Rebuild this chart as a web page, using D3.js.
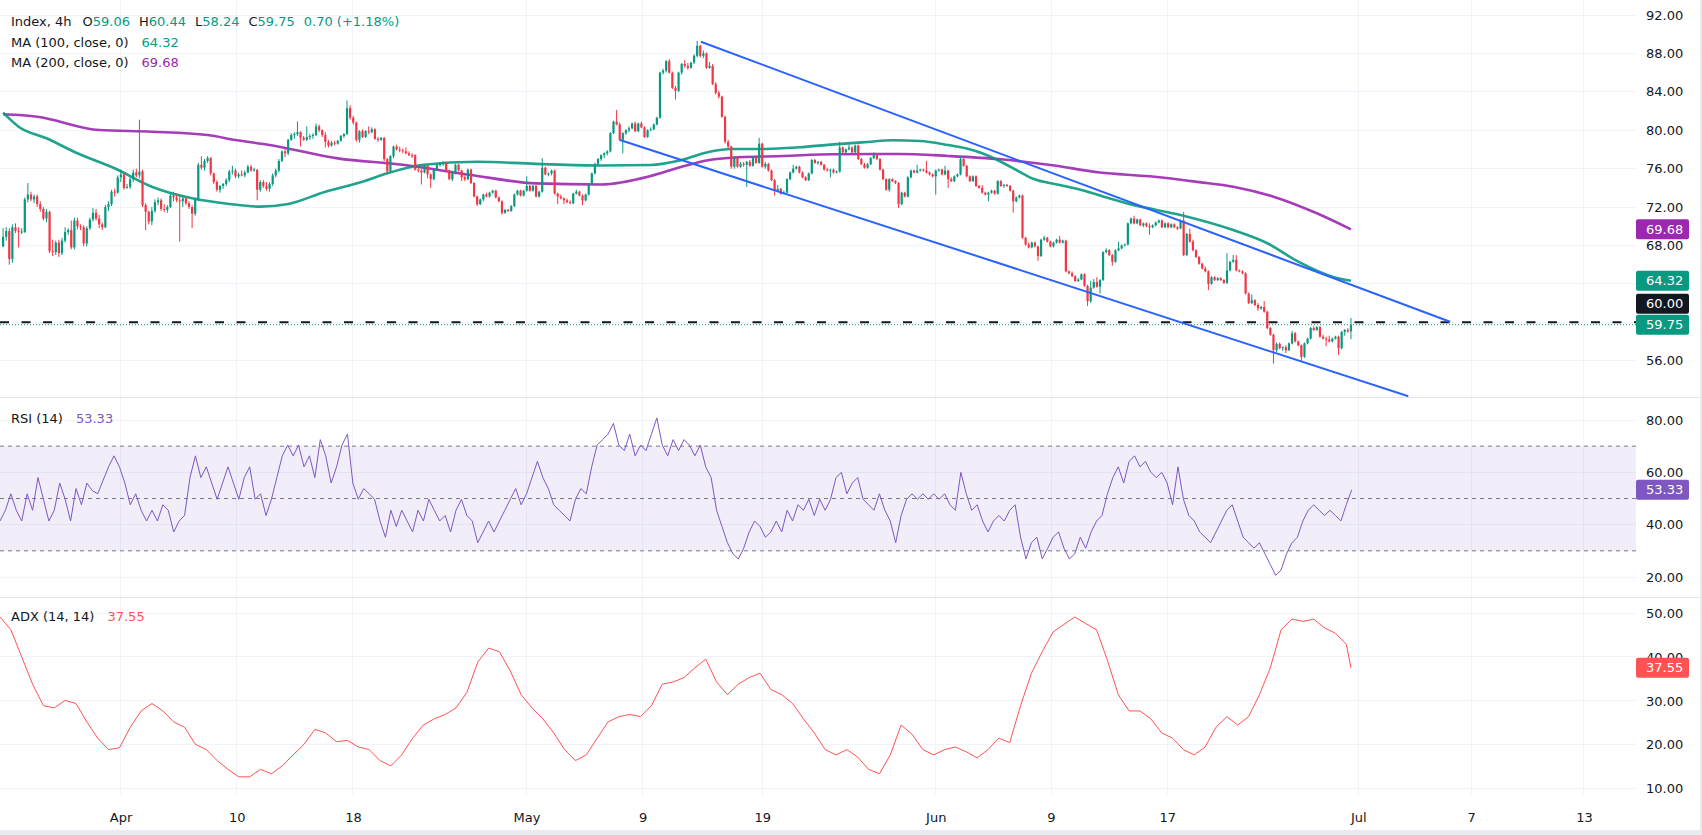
<!DOCTYPE html>
<html><head><meta charset="utf-8">
<script src="https://cdn.jsdelivr.net/npm/d3@7"></script>
<style>
html,body{margin:0;padding:0;background:#e9ebf0;}
svg{display:block;background:#fff;font-family:"DejaVu Sans",sans-serif;}
</style></head><body>
<svg id="c" width="1700" height="830"></svg>
<script>
// ---------------- DATA ----------------
const open=[67.9,68.9,69.5,66.6,69.9,69.5,69.4,69.4,72.8,73.3,
72.8,73.1,72.3,71.8,70.8,71.5,67.4,67.3,68.3,67.2,
68.5,69.4,69.6,67.8,70.6,70.0,69.9,68.2,69.8,70.7,
71.4,70.8,70.2,69.9,72.0,72.3,73.6,73.5,75.1,75.4,
74.0,74.1,74.9,75.6,75.3,75.7,72.2,71.5,70.5,71.6,
72.5,72.7,71.8,71.7,72.0,73.2,73.0,72.7,72.6,72.9,
72.4,72.0,71.3,72.8,76.4,76.1,76.8,77.1,75.5,74.6,
73.8,74.2,74.4,74.8,75.7,75.8,75.2,75.4,75.3,75.6,
76.2,75.8,75.9,73.8,74.6,74.2,73.9,74.4,75.3,75.8,
76.8,77.8,77.6,79.0,79.5,79.6,79.8,79.2,79.0,79.3,
79.4,79.5,80.4,80.0,79.5,78.8,78.4,78.7,78.6,78.9,
79.4,79.6,82.3,81.3,80.8,79.0,79.9,79.3,79.9,79.8,
80.1,79.1,79.0,79.2,77.0,75.7,77.3,78.3,78.0,77.9,
77.8,77.6,77.4,77.4,75.9,75.8,75.6,76.3,75.4,74.9,
75.9,76.4,76.5,76.6,75.8,74.9,75.6,76.4,75.8,75.1,
74.9,75.9,74.5,73.1,72.3,72.8,73.3,73.1,73.5,73.7,
73.0,72.6,71.4,71.7,71.6,72.1,73.3,73.7,73.2,73.7,
74.2,73.7,74.2,73.1,73.6,76.1,75.4,75.5,75.8,73.4,
73.1,72.9,72.7,72.5,72.4,73.4,73.6,73.2,72.7,73.3,
74.4,75.5,76.5,77.0,77.4,77.6,77.8,79.7,80.9,80.6,
79.0,79.7,80.0,80.2,80.7,79.9,80.7,80.3,79.3,80.0,
80.1,80.6,81.3,86.0,86.2,87.2,86.0,84.4,84.1,86.0,
86.9,86.7,86.5,87.05,87.75,88.8,87.75,88.0,86.5,86.7,
84.8,83.9,83.5,81.4,78.8,78.3,76.2,77.2,76.2,76.5,
76.4,76.7,76.3,77.2,76.6,78.6,76.2,76.5,75.8,74.8,
73.7,73.9,73.4,73.5,74.9,75.6,76.0,76.2,75.6,75.1,
74.8,75.5,76.9,76.6,76.7,76.4,75.9,75.8,75.9,75.6,
75.7,78.2,77.7,78.0,78.2,77.7,78.4,77.0,76.45,76.1,
76.45,77.1,77.5,77.0,75.9,74.9,73.8,74.9,74.7,74.5,
72.3,73.5,73.1,75.1,75.8,75.6,75.8,75.9,75.8,75.6,
75.4,75.2,75.8,75.9,75.4,75.8,74.9,74.7,75.2,75.4,
77.0,76.3,75.2,74.7,75.2,74.2,74.0,73.5,73.3,73.5,
73.7,73.4,74.7,74.2,74.3,74.2,73.7,72.6,73.0,73.2,
68.8,68.1,67.8,68.3,67.9,66.9,68.6,68.8,68.4,67.9,
68.3,68.6,68.3,68.5,65.3,65.1,64.8,64.3,64.45,65.0,
63.8,62.2,63.6,64.2,63.7,64.4,67.3,67.5,67.0,66.3,
67.5,67.7,68.0,68.1,70.3,70.8,70.3,70.7,70.1,70.3,
70.0,69.9,70.1,70.4,70.6,69.9,70.3,69.9,70.2,69.9,
69.75,70.6,67.0,69.2,68.4,67.5,66.8,66.1,65.6,65.3,
64.0,64.7,64.4,64.6,64.4,64.1,65.4,66.3,66.5,65.4,
65.3,65.1,63.0,62.0,62.3,61.8,61.45,61.6,61.1,59.4,
58.7,57.1,57.75,57.3,57.4,57.1,57.8,58.85,58.0,57.6,
56.4,57.8,58.3,59.4,59.2,59.5,58.5,58.3,58.2,58.0,
58.3,58.5,57.3,59.0,59.2,59.06];
const high=[69.8,69.9,69.8,70.2,70.3,69.9,69.8,73.0,74.5,73.6,
73.3,73.3,72.6,72.0,71.8,71.6,68.6,68.5,68.6,68.8,
69.9,69.8,70.6,70.9,70.9,70.2,70.1,70.0,70.9,71.9,
71.8,71.2,70.4,72.2,72.6,73.8,73.9,75.3,75.9,75.6,
74.4,75.1,75.9,76.0,81.1,75.9,72.4,71.6,72.0,72.8,
73.0,72.9,72.3,72.2,73.5,73.6,73.3,73.2,73.2,73.1,
72.6,72.2,73.0,76.6,77.3,77.0,77.3,77.2,75.6,74.8,
74.3,74.5,75.0,75.9,76.3,76.0,75.6,75.8,75.8,76.4,
76.4,76.1,75.9,74.8,74.8,74.6,74.6,75.5,76.0,77.0,
77.9,78.1,79.1,79.7,79.8,80.9,79.9,79.4,80.4,79.6,
79.7,80.7,80.6,80.1,79.8,79.0,78.9,78.9,79.0,79.5,
79.7,83.1,82.6,81.5,80.9,80.0,80.1,80.0,80.4,80.3,
80.2,79.3,79.3,79.3,77.1,77.4,78.4,78.5,78.3,78.1,
78.2,77.8,77.6,77.5,76.1,76.0,76.4,76.4,75.5,76.0,
76.5,76.7,76.8,76.7,75.9,75.8,76.5,76.5,75.9,75.3,
76.0,76.0,74.6,73.2,72.9,73.4,73.5,73.6,73.8,73.8,
73.1,72.7,71.8,71.8,72.2,73.4,73.8,73.8,73.8,75.2,
74.3,74.3,74.3,73.7,77.1,76.2,75.6,75.9,75.9,73.5,
73.3,73.0,72.9,72.7,73.5,73.8,73.7,73.3,73.4,74.5,
75.6,76.6,77.1,77.5,77.7,77.9,79.8,81.0,82.1,80.8,
79.8,80.1,80.4,80.8,80.9,80.8,80.9,80.4,80.1,80.3,
80.7,81.4,86.1,86.4,87.3,87.4,86.1,84.6,86.1,87.0,
87.3,87.0,87.1,87.9,89.3,88.9,88.3,88.1,87.1,86.9,
85.0,84.1,83.6,81.5,79.0,78.4,77.3,77.3,76.7,76.7,
76.8,76.9,77.3,77.3,79.2,78.7,76.7,76.6,75.9,74.9,
74.3,74.0,73.7,75.0,75.7,76.4,76.3,76.3,75.7,75.2,
75.6,77.0,77.0,76.8,76.8,76.5,76.1,76.0,76.0,75.8,
78.8,78.3,78.1,78.5,78.3,78.5,78.5,77.1,76.6,76.6,
77.2,77.7,77.6,77.1,76.0,75.0,75.0,75.0,74.8,74.6,
73.6,73.6,75.2,75.9,75.9,76.4,76.0,76.0,76.8,75.7,
75.5,75.9,76.0,76.0,76.3,75.9,75.1,75.3,75.5,77.3,
77.1,76.4,75.3,75.3,75.3,74.3,74.3,73.6,73.6,73.8,
73.8,74.8,74.8,74.4,74.4,74.3,73.8,73.1,73.3,73.3,
68.9,68.3,68.4,68.4,68.0,68.7,69.0,68.9,68.5,68.4,
68.7,69.0,68.6,68.6,65.4,65.3,64.9,64.6,65.1,65.1,
63.9,64.3,64.5,64.7,64.5,67.4,67.7,67.6,67.1,67.6,
68.4,68.1,68.2,70.4,70.9,71.1,70.8,70.8,70.4,70.4,
70.3,70.2,70.5,70.7,70.7,70.4,70.4,70.3,70.3,70.0,
70.7,71.5,69.3,69.75,68.6,67.6,66.9,66.2,65.8,65.4,
64.8,64.8,64.7,64.7,64.5,67.2,66.4,67.0,67.0,65.5,
65.4,65.2,63.1,62.9,62.4,62.0,61.7,62.2,61.2,59.5,
58.8,57.9,57.9,57.5,57.6,57.9,59.1,59.0,58.1,57.7,
57.9,58.4,59.5,59.6,59.6,59.6,58.7,58.5,58.6,58.4,
58.6,58.6,59.1,59.3,59.4,60.44];
const low=[67.8,68.5,66.0,66.2,69.3,67.8,69.2,69.3,72.5,72.6,
72.4,72.0,71.5,70.6,70.4,67.2,66.9,67.0,66.8,67.0,
68.3,69.1,67.6,67.6,69.7,69.6,67.9,67.9,69.6,70.5,
70.6,69.8,69.6,69.8,71.6,72.1,73.1,73.4,74.6,73.8,
73.9,73.9,74.6,75.1,75.0,72.0,69.6,70.2,70.1,71.4,
72.2,71.6,71.5,71.4,71.9,72.6,72.5,68.4,72.0,72.2,
71.8,69.8,71.1,72.6,75.9,75.8,76.6,75.3,74.4,73.6,
73.5,73.9,74.2,74.6,75.4,75.0,75.0,75.2,75.1,75.5,
75.7,75.7,72.7,73.6,74.0,73.7,73.6,74.2,75.1,75.6,
76.7,77.2,77.4,78.9,79.1,79.4,78.3,78.9,78.9,79.0,
79.1,79.4,79.8,79.3,78.2,78.2,78.3,78.4,78.5,78.8,
79.2,79.5,81.1,80.6,78.8,78.7,79.2,79.2,79.6,79.7,
79.0,78.8,78.9,76.8,75.4,75.5,77.1,77.9,77.7,77.6,
77.5,77.3,77.1,75.8,75.6,74.35,75.5,75.0,74.0,74.8,
75.8,76.2,76.3,75.7,74.8,74.7,75.4,75.7,74.7,74.7,
74.8,74.4,73.0,72.1,72.2,72.6,73.0,73.0,73.4,72.9,
72.5,71.2,71.3,71.5,71.5,72.0,73.2,73.1,73.1,73.6,
73.6,73.6,73.0,73.0,73.5,75.3,75.2,75.3,73.3,72.3,
72.8,72.3,72.4,72.3,72.3,73.3,73.1,72.2,72.6,73.2,
74.3,75.4,76.3,76.8,77.1,77.4,77.7,79.6,80.5,78.9,
77.6,79.5,79.8,80.1,79.8,79.8,80.2,79.2,79.2,79.9,
80.0,80.5,81.2,85.8,86.0,85.9,84.3,83.2,84.0,85.8,
86.5,86.3,86.4,86.9,87.6,87.6,87.5,86.4,86.4,84.7,
83.7,83.3,81.3,78.6,78.1,76.0,76.0,76.1,76.1,76.2,
74.1,76.2,76.2,76.5,76.5,76.1,76.0,75.7,74.7,73.2,
73.6,73.3,73.3,73.4,74.8,75.5,75.9,75.5,75.0,74.7,
74.7,75.4,76.5,76.4,76.3,75.8,75.7,75.1,75.5,75.5,
75.6,77.6,77.6,77.9,77.6,77.6,76.9,76.4,76.0,76.0,
76.4,77.0,76.9,75.8,74.8,73.7,73.6,74.6,74.4,71.9,
72.2,73.0,73.0,75.0,75.5,75.5,75.7,75.7,75.5,75.3,
75.1,73.3,75.7,75.3,75.3,74.0,74.6,74.6,75.1,75.3,
76.2,75.1,74.6,74.6,74.1,73.9,73.4,73.2,72.6,73.4,
73.3,73.3,74.1,74.0,74.1,73.6,71.4,72.5,72.9,68.7,
68.0,67.7,67.7,67.8,66.4,66.8,68.5,68.3,67.8,67.8,
68.2,68.2,68.2,65.2,65.0,64.7,64.2,64.2,64.4,63.7,
61.7,62.0,63.5,63.6,63.0,64.3,67.2,66.9,65.9,66.2,
67.4,67.6,67.9,68.0,70.2,70.2,70.2,70.0,69.9,69.9,
69.1,69.8,70.0,70.3,69.8,69.8,69.8,69.8,69.8,69.6,
69.7,66.9,66.9,68.3,67.4,66.7,66.0,65.5,65.2,63.35,
63.9,64.3,64.3,64.3,64.0,64.0,65.3,66.2,65.3,65.2,
65.0,62.9,61.9,61.9,61.7,61.2,61.3,61.0,59.3,58.6,
55.7,56.9,57.2,57.0,56.8,57.0,57.7,57.9,57.5,55.9,
56.3,57.7,58.2,59.1,59.1,58.4,58.2,57.5,57.9,57.9,
58.2,56.6,57.2,58.6,58.9,58.24];
const close=[68.9,69.5,66.6,69.9,69.5,69.4,69.45,72.8,73.3,72.8,
73.1,72.3,71.8,70.8,71.5,67.4,67.3,68.3,67.2,68.5,
69.4,69.6,67.8,70.6,70.0,69.9,68.2,69.8,70.7,71.4,
70.8,70.2,69.9,72.0,72.3,73.6,73.5,75.1,75.4,74.0,
74.1,74.9,75.6,75.3,75.7,72.2,71.5,70.5,71.6,72.5,
72.7,71.8,71.7,72.0,73.2,73.0,72.7,72.6,72.9,72.4,
72.0,71.3,72.8,76.4,76.1,76.8,77.1,75.5,74.6,73.8,
74.2,74.4,74.8,75.7,75.8,75.2,75.4,75.3,75.6,76.2,
75.8,75.9,73.8,74.6,74.2,73.9,74.4,75.3,75.8,76.8,
77.8,77.6,79.0,79.5,79.6,79.8,79.2,79.0,79.3,79.4,
79.5,80.4,80.0,79.5,78.8,78.4,78.7,78.6,78.9,79.4,
79.6,82.3,81.3,80.8,79.0,79.9,79.3,79.9,79.8,80.1,
79.1,79.0,79.2,77.0,75.7,77.3,78.3,78.0,77.9,77.8,
77.6,77.4,77.3,75.9,75.8,75.6,76.3,75.4,74.9,75.9,
76.4,76.5,76.6,75.8,74.9,75.6,76.4,75.8,75.1,74.9,
75.9,74.5,73.1,72.3,72.8,73.3,73.1,73.5,73.7,73.0,
72.6,71.4,71.7,71.6,72.1,73.3,73.7,73.2,73.7,74.2,
73.7,74.2,73.1,73.6,76.1,75.4,75.5,75.8,73.4,73.1,
72.9,72.7,72.5,72.4,73.4,73.6,73.2,72.7,73.3,74.4,
75.5,76.5,77.0,77.4,77.6,77.8,79.7,80.9,80.6,79.0,
79.7,80.0,80.2,80.7,79.9,80.7,80.3,79.3,80.0,80.1,
80.6,81.3,86.0,86.2,87.2,86.0,84.4,84.1,86.0,86.9,
86.7,86.5,87.05,87.75,88.8,87.75,88.0,86.5,86.7,84.8,
83.9,83.5,81.4,78.8,78.3,76.2,77.2,76.2,76.5,76.4,
76.7,76.3,77.2,76.6,78.6,76.2,76.5,75.8,74.8,73.7,
73.9,73.4,73.5,74.9,75.6,76.0,76.2,75.6,75.1,74.8,
75.5,76.9,76.6,76.7,76.4,75.9,75.8,75.9,75.6,75.7,
78.2,77.7,78.0,78.2,77.7,78.4,77.0,76.45,76.1,76.45,
77.1,77.5,77.0,75.9,74.9,73.8,74.9,74.7,74.5,72.3,
73.5,73.1,75.1,75.8,75.6,75.8,75.9,75.8,75.6,75.4,
75.2,75.8,75.9,75.4,75.8,74.9,74.7,75.2,75.4,77.0,
76.3,75.2,74.7,75.2,74.2,74.0,73.5,73.3,73.5,73.7,
73.4,74.7,74.2,74.3,74.2,73.7,72.6,73.0,73.2,68.8,
68.1,67.8,68.3,67.9,66.9,68.6,68.8,68.4,67.9,68.3,
68.6,68.3,68.5,65.3,65.1,64.8,64.3,64.45,65.0,63.8,
62.2,63.6,64.2,63.7,64.4,67.3,67.5,67.0,66.3,67.5,
67.7,68.0,68.1,70.3,70.8,70.3,70.7,70.1,70.3,70.0,
69.9,70.1,70.4,70.6,69.9,70.3,69.9,70.2,69.9,69.75,
70.6,67.0,69.2,68.4,67.5,66.8,66.1,65.6,65.3,64.0,
64.7,64.4,64.6,64.4,64.1,65.4,66.3,66.5,65.4,65.3,
65.1,63.0,62.0,62.3,61.8,61.45,61.6,61.1,59.4,58.7,
57.1,57.75,57.3,57.4,57.1,57.8,58.85,58.0,57.6,56.4,
57.8,58.3,59.4,59.2,59.5,58.5,58.3,58.2,58.0,58.3,
58.5,57.3,59.0,59.2,59.054,59.75];

// moving averages (bar index, value)
const ma100Bar=[0,5,14,24,36,48,61,73,83,92,104,116,124,135,153,172,193,209,219,228,235,246,257,268,279,287,296,305,311,316,322,327,332,341,348,354,365,380,397,408,418,429,435];
const ma100Val=[81.83,80.37,79.16,77.6,76.04,74.12,72.91,72.32,72.04,72.32,73.6,74.64,75.51,76.38,76.72,76.5,76.33,76.38,76.9,77.76,78.05,78.05,78.22,78.53,78.78,78.95,78.88,78.46,78.1,77.6,76.72,75.86,75.0,74.3,73.78,73.2,72.2,71.17,69.6,68.23,66.31,64.75,64.32];
const ma200Bar=[0,11,31,48,66,75,86,108,129,151,172,193,209,219,228,235,252,268,289,305,322,338,354,370,386,397,410,424,435];
const ma200Val=[81.66,81.41,80.02,79.85,79.5,78.98,78.46,77.07,76.4,75.34,74.47,74.35,75.23,76.2,76.9,77.14,77.32,77.5,77.53,77.32,76.97,76.38,75.6,75.2,74.6,74.12,73.08,71.35,69.68];

// channel lines (bar index, price)
const upperBar=[225.2,467.0], upperVal=[89.22,60.06];
const lowerBar=[199.1,453.5], lowerVal=[78.98,52.3];
const levelVal=60.00;

// RSI(14) sampled every rsiStep bars from rsiStart
const rsiStart=-1, rsiStep=1.752;
const rsiVal=[41.4,45.5,51.8,45.5,41.4,51.8,45.5,58.0,49.7,41.4,
45.5,55.9,49.7,41.4,53.8,47.6,55.9,53.0,51.8,57.0,
62.1,66.3,62.1,55.9,47.6,51.8,45.5,41.4,45.5,41.4,
47.6,45.5,37.2,41.4,43.5,58.0,66.3,58.0,62.1,55.9,
49.7,55.9,62.1,55.9,49.7,58.0,62.1,49.7,51.8,43.5,
49.7,58.0,66.3,70.4,66.3,70.4,62.1,66.3,58.0,72.5,
66.3,55.9,62.1,70.4,74.6,55.9,49.7,53.8,51.8,49.7,
41.4,35.2,45.5,39.3,45.5,41.4,37.2,45.5,41.4,49.7,
45.5,41.4,43.5,37.2,45.5,49.7,43.5,41.4,33.1,37.2,
41.4,37.2,41.4,45.5,49.7,53.8,47.6,51.8,58.0,64.2,
58.0,53.8,47.6,45.5,43.5,41.4,49.7,53.8,51.8,62.1,
70.4,72.5,74.6,78.7,70.4,68.3,74.6,66.3,70.4,68.3,
74.6,80.8,70.4,66.3,72.5,68.3,72.5,70.4,66.3,70.4,
62.1,58.0,45.5,39.3,33.1,28.9,26.9,31.0,37.2,41.4,
39.3,35.2,37.2,41.4,37.2,45.5,41.4,47.6,45.5,49.7,
43.5,49.7,45.5,49.7,58.0,60.0,51.8,55.9,58.0,49.7,
47.6,45.5,51.8,45.5,41.4,33.1,43.5,49.7,51.8,49.7,
51.8,49.7,51.8,49.7,51.8,47.6,45.5,60.0,51.8,45.5,
47.6,41.4,37.2,41.4,43.5,41.4,45.5,47.6,35.2,26.9,
33.1,35.2,26.9,31.0,35.2,37.2,31.0,26.9,28.9,35.2,
31.0,37.2,41.4,43.5,51.8,58.0,62.1,55.9,64.2,66.3,
62.1,64.2,60.0,58.0,60.0,55.9,47.6,62.1,49.7,43.5,
41.4,37.2,35.2,33.1,37.2,41.4,45.5,47.6,41.4,35.2,
33.1,31.0,33.1,28.9,24.8,20.6,22.7,28.9,33.1,35.2,
41.4,45.5,47.6,45.5,43.5,45.5,43.5,41.4,47.6,53.33];
const rsiBands=[70,50,30];

// ADX(14,14) sampled every adxStep bars, last point on the last bar
const adxStart=-1, adxStep=3.504;
const adxVal=[49.1,46.2,40.0,33.8,28.9,28.4,30.1,29.4,25.2,21.5,
18.9,19.3,24.0,27.7,29.4,27.7,25.2,24.0,20.1,18.9,
16.4,14.4,12.7,12.7,14.4,13.4,15.2,17.7,20.1,23.5,
22.7,20.7,21.0,19.5,18.9,16.4,15.2,17.7,21.5,24.5,
25.9,26.9,28.4,31.9,38.8,42.0,41.2,36.8,31.4,28.4,
25.9,22.7,18.9,16.4,17.7,21.5,25.2,26.4,26.9,26.4,
28.9,33.8,34.3,35.3,37.5,39.5,34.3,31.4,33.8,35.3,
36.3,32.6,31.4,29.4,25.9,22.7,18.9,17.7,18.9,17.2,
14.4,13.4,17.7,24.5,22.4,18.9,17.7,18.9,19.5,18.4,
17.0,18.9,21.5,20.5,28.9,36.3,41.2,45.7,47.4,49.1,
47.6,46.2,39.2,31.4,27.7,27.7,25.9,22.7,21.5,18.9,
17.7,19.5,24.0,26.4,24.5,26.4,31.4,37.5,46.2,48.6,
48.1,48.6,46.6,45.4,42.9];
const adxLast=37.55;

// axes
const tickLabels=["Apr","10","18","May","9","19","Jun","9","17","Jul","7","13"];
const tickBars=[37.9,75.4,112.9,168.9,206.4,245.0,301.0,338.2,375.7,437.4,473.8,510.2];
const priceTicks=[56,60,64,68,72,76,80,84,88,92];
const rsiTicks=[20,40,60,80];
const adxTicks=[10,20,30,40,50];

// ---------------- DRAW ----------------
const UP="#089981", DN="#F23645", TXT="#131722", GRID="#f0f3fa", SEP="#e0e3eb";
const MA100C="#089981", MA200C="#9C27B0", RSIC="#7E57C2", ADXC="#FF5252", TLC="#2962FF";
const plotR=1636, fullW=1700;
const svg=d3.select("#c");
const x=d3.scaleLinear().domain([-1,527]).range([0,plotR]);
const yP=d3.scaleLinear().domain([56,92]).range([360.7,15]);
const yR=d3.scaleLinear().domain([20,80]).range([577,420]);
const yA=d3.scaleLinear().domain([10,50]).range([788.7,613]);
const panes={p:[0,397],r:[397,597],a:[597,795]};

const defs=svg.append("defs");
Object.entries(panes).forEach(([k,[t,b]])=>{
  defs.append("clipPath").attr("id","clip-"+k).append("rect").attr("x",0).attr("y",t).attr("width",plotR).attr("height",b-t);
});

// grid
const grid=svg.append("g").attr("stroke",GRID).attr("stroke-width",1).attr("shape-rendering","crispEdges");
tickBars.forEach(b=>grid.append("line").attr("x1",x(b)).attr("x2",x(b)).attr("y1",0).attr("y2",795));
priceTicks.forEach(v=>grid.append("line").attr("x1",0).attr("x2",plotR).attr("y1",yP(v)).attr("y2",yP(v)));
rsiTicks.forEach(v=>grid.append("line").attr("x1",0).attr("x2",plotR).attr("y1",yR(v)).attr("y2",yR(v)));
adxTicks.forEach(v=>grid.append("line").attr("x1",0).attr("x2",plotR).attr("y1",yA(v)).attr("y2",yA(v)));

// pane separators
[397,597].forEach(y=>svg.append("line").attr("x1",0).attr("x2",fullW).attr("y1",y+0.5).attr("y2",y+0.5).attr("stroke",SEP).attr("stroke-width",1));

// ---- price pane
const gp=svg.append("g").attr("clip-path","url(#clip-p)");
gp.append("line").attr("x1",0).attr("x2",plotR).attr("y1",yP(levelVal)).attr("y2",yP(levelVal))
  .attr("stroke",TXT).attr("stroke-width",2).attr("stroke-dasharray","9,12.5");
const lastC=close[close.length-1];
gp.append("line").attr("x1",0).attr("x2",plotR).attr("y1",yP(lastC)).attr("y2",yP(lastC))
  .attr("stroke",UP).attr("stroke-width",1).attr("stroke-dasharray","1,2");

const maLine=d3.line().x(d=>x(d[0])).y(d=>yP(d[1])).curve(d3.curveMonotoneX);
gp.append("path").attr("d",maLine(ma200Bar.map((b,i)=>[b,ma200Val[i]]))).attr("fill","none").attr("stroke",MA200C).attr("stroke-width",2.6).attr("stroke-opacity",0.9);
gp.append("path").attr("d",maLine(ma100Bar.map((b,i)=>[b,ma100Val[i]]))).attr("fill","none").attr("stroke",MA100C).attr("stroke-width",2.6).attr("stroke-opacity",0.9);

const cg=gp.append("g");
close.forEach((c,i)=>{
  const o=open[i], col=c>=o?UP:DN, cx=x(i);
  cg.append("line").attr("x1",cx).attr("x2",cx).attr("y1",yP(high[i])).attr("y2",yP(low[i])).attr("stroke",col).attr("stroke-width",1);
  const top=yP(Math.max(o,c)), bot=yP(Math.min(o,c));
  cg.append("rect").attr("x",cx-1.1).attr("width",2.2).attr("y",top).attr("height",Math.max(1,bot-top)).attr("fill",col);
});

const tl=d3.line().x(d=>x(d[0])).y(d=>yP(d[1]));
gp.append("path").attr("d",tl(upperBar.map((b,i)=>[b,upperVal[i]]))).attr("stroke",TLC).attr("stroke-width",2).attr("fill","none");
gp.append("path").attr("d",tl(lowerBar.map((b,i)=>[b,lowerVal[i]]))).attr("stroke",TLC).attr("stroke-width",2).attr("fill","none");

// ---- RSI pane
const gr=svg.append("g").attr("clip-path","url(#clip-r)");
gr.append("rect").attr("x",0).attr("width",plotR).attr("y",yR(70)).attr("height",yR(30)-yR(70)).attr("fill","rgba(126,87,194,0.1)");
rsiBands.forEach(v=>gr.append("line").attr("x1",0).attr("x2",plotR).attr("y1",yR(v)).attr("y2",yR(v)).attr("stroke","#787B86").attr("stroke-width",1).attr("stroke-dasharray","4,4"));
const rl=d3.line().x((d,k)=>x(rsiStart+k*rsiStep)).y(d=>yR(d));
gr.append("path").attr("d",rl(rsiVal)).attr("fill","none").attr("stroke",RSIC).attr("stroke-width",1);

// ---- ADX pane
const ga=svg.append("g").attr("clip-path","url(#clip-a)");
const adxPts=adxVal.map((v,k)=>[adxStart+k*adxStep,v]).concat([[close.length-1,adxLast]]);
ga.append("path").attr("d",d3.line().x(d=>x(d[0])).y(d=>yA(d[1]))(adxPts)).attr("fill","none").attr("stroke",ADXC).attr("stroke-width",1);

// ---- axes
function styleAxis(g){g.select(".domain").remove();g.attr("font-family","DejaVu Sans, sans-serif").attr("font-size",13).attr("color",TXT);}
const f2=d3.format(".2f");
svg.append("g").attr("transform",`translate(${plotR},0)`).call(d3.axisRight(yP).tickValues(priceTicks).tickFormat(f2).tickSize(0).tickPadding(10)).call(styleAxis);
svg.append("g").attr("transform",`translate(${plotR},0)`).call(d3.axisRight(yR).tickValues(rsiTicks).tickFormat(f2).tickSize(0).tickPadding(10)).call(styleAxis);
svg.append("g").attr("transform",`translate(${plotR},0)`).call(d3.axisRight(yA).tickValues(adxTicks).tickFormat(f2).tickSize(0).tickPadding(10)).call(styleAxis);
svg.append("g").attr("transform","translate(0,795)").call(d3.axisBottom(x).tickValues(tickBars).tickFormat((d,i)=>tickLabels[i]).tickSize(0).tickPadding(18)).call(styleAxis);

// ---- badges
function badge(y,txt,bg){
  const g=svg.append("g");
  g.append("rect").attr("x",plotR).attr("y",y-10).attr("width",53).attr("height",20).attr("rx",2).attr("fill",bg);
  g.append("text").attr("x",plotR+10).attr("y",y).attr("dy","0.36em").attr("fill","#fff").attr("font-size",13).text(txt);
}
const ma100Last=ma100Val[ma100Val.length-1], ma200Last=ma200Val[ma200Val.length-1];
const yLast=yP(lastC);
let yLevel=yP(levelVal); if(Math.abs(yLevel-yLast)<21) yLevel=yLast-21;
badge(yP(ma200Last),f2(ma200Last),MA200C);
badge(yP(ma100Last),f2(ma100Last),MA100C);
badge(yLevel,f2(levelVal),TXT);
badge(yLast,f2(lastC),UP);
const rsiLast=rsiVal[rsiVal.length-1];
badge(yR(rsiLast),f2(rsiLast),RSIC);
badge(yA(adxLast),f2(adxLast),ADXC);

// ---- legends
function legend(xp,yp,segs){
  const t=svg.append("text").attr("x",xp).attr("y",yp).attr("font-size",13);
  segs.forEach(([s,c,dx])=>t.append("tspan").attr("dx",dx).attr("fill",c).text(s));
}
const n=close.length-1, chg=close[n]-close[n-1];
legend(11,26,[["Index, 4h",TXT,0],["O",TXT,11],[f2(open[n]),UP,0],["H",TXT,9],[f2(high[n]),UP,0],["L",TXT,9],[f2(low[n]),UP,0],["C",TXT,9],[f2(close[n]),UP,0],[f2(chg)+" (+"+f2(chg/close[n-1]*100)+"%)",UP,9]]);
legend(11,46.5,[["MA (100, close, 0)",TXT,0],[f2(ma100Last),MA100C,13]]);
legend(11,67,[["MA (200, close, 0)",TXT,0],[f2(ma200Last),MA200C,13]]);
legend(11,422.5,[["RSI (14)",TXT,0],[f2(rsiLast),RSIC,13]]);
legend(11,621,[["ADX (14, 14)",TXT,0],[f2(adxLast),ADXC,13]]);
</script></body></html>
